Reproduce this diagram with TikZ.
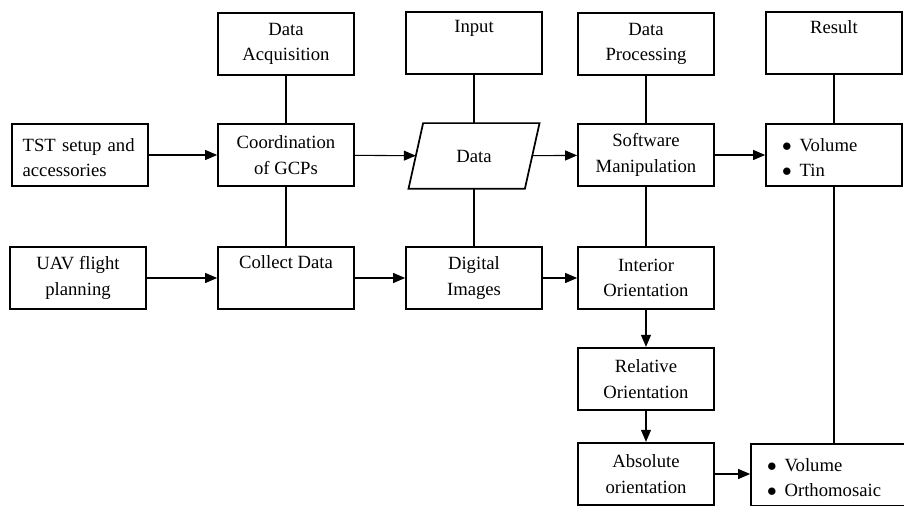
\documentclass[tikz,border=0pt]{standalone}
\usepackage{fontspec}
\setmainfont{Liberation Serif}
\usetikzlibrary{arrows.meta}

\tikzset{
  box/.style={draw, line width=1.3pt, minimum width=102pt, minimum height=47pt,
    inner sep=0pt, align=center, font=\fontsize{14}{19}\selectfont},
  lbox/.style={box, align=left, text width=78pt,
    execute at begin node={\rule{0pt}{14pt}}},
  iobox/.style={box, draw=none, minimum width=86pt, minimum height=48pt},
  link/.style={line width=0.8pt},
  flow/.style={link, -{Triangle[length=9pt,width=7.5pt]}}
}

\begin{document}
\begin{tikzpicture}[x=0.75pt, y=-0.75pt]
	    \clip (0,0) rectangle (904,506);
	    % top row
	    \node[box] (acq) at (286,44) {Data\\Acquisition};
	    \node[box] (inp) at (474,43) {Input\\\strut};
	    \node[box] (proc) at (646,44) {Data\\Processing};
	    \node[box] (res) at (834,43) {Result\\\strut};

	    % second row
	    \node[lbox, text width=86pt] (tst) at (80,155) {TST setup and\\accessories};
	    \node[box] (gcp) at (286,155) {Coordination\\of GCPs};
	    \node[iobox] (data) at (474,156) {Data};
	    \draw[line width=1.3pt] ([xshift=5.5pt]data.north west) -- ([xshift=5.5pt]data.north east)
	      -- ([xshift=-5.5pt]data.south east) -- ([xshift=-5.5pt]data.south west) -- cycle;
	    \node[box] (sw) at (646,155) {Software\\Manipulation};
	    \node[lbox] (vt) at (834,155) {$\bullet$\hspace{6pt}Volume\\$\bullet$\hspace{6pt}Tin};

	    % third row
	    \node[box] (uav) at (78,278) {UAV flight\\planning};
	    \node[box] (col) at (286,278) {Collect Data\\\strut};
	    \node[box] (dig) at (474,278) {Digital\\Images};
	    \node[box] (int) at (646,278) {Interior\\Orientation};
	    \node[box] (rel) at (646,379) {Relative\\Orientation};
	    \node[box] (abs) at (646,474) {Absolute\\orientation};
	    \node[lbox, minimum width=120pt, text width=96pt] (ort) at (831,475) {$\bullet$\hspace{6pt}Volume\\$\bullet$\hspace{6pt}Orthomosaic};

	    \draw[link] (acq) -- (gcp);
	    \draw[link] (gcp) -- (col);
	    \draw[link] (inp) -- (data);
	    \draw[link] (data) -- (dig);
	    \draw[link] (proc) -- (sw);
	    \draw[link] (sw) -- (int);
	    \draw[link] (res) -- (vt);
	    \draw[link] (vt.south) -- (vt.south |- ort.north);

	    \draw[flow] (tst) -- (gcp);
	    \draw[flow] (gcp) -- (data);
	    \draw[flow] (data) -- (sw);
	    \draw[flow] (sw) -- (vt);
	    \draw[flow] (uav) -- (col);
	    \draw[flow] (col) -- (dig);
	    \draw[flow] (dig) -- (int);
	    \draw[flow] (int) -- (rel);
	    \draw[flow] (rel) -- (abs);
	    \draw[flow] (abs) -- (abs -| ort.west);
		\end{tikzpicture}
\end{document}
